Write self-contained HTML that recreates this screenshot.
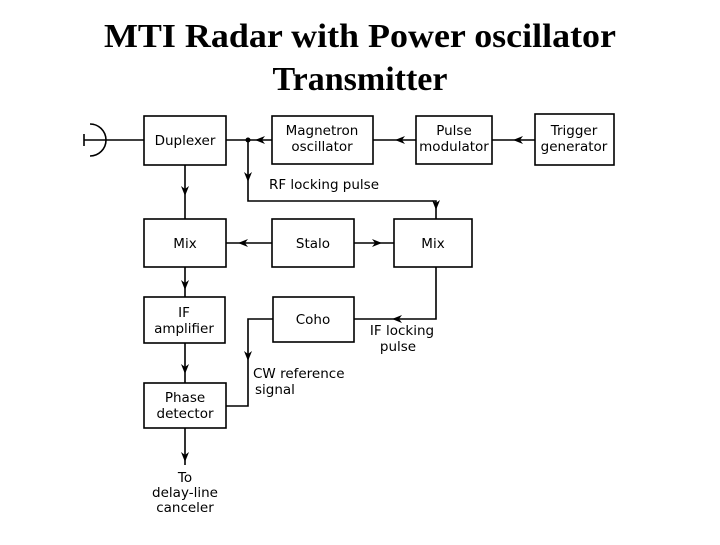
<!DOCTYPE html>
<html><head><style>
body{margin:0;background:#fff;width:720px;height:540px;overflow:hidden}
</style></head><body>
<svg width="720" height="540" xmlns="http://www.w3.org/2000/svg">
<text x="104" y="47" textLength="512" lengthAdjust="spacingAndGlyphs" font-family="Liberation Serif, serif" font-weight="bold" font-size="34" fill="#000">MTI Radar with Power oscillator</text>
<text x="360" y="90" text-anchor="middle" font-family="Liberation Serif, serif" font-weight="bold" font-size="34" fill="#000">Transmitter</text>
<g fill="none" stroke="#000" stroke-width="1.6">
<rect x="144" y="116" width="82" height="49"/>
<rect x="272" y="116" width="101" height="48"/>
<rect x="416" y="116" width="76" height="48"/>
<rect x="535" y="114" width="79" height="51"/>
<rect x="144" y="219" width="82" height="48"/>
<rect x="272" y="219" width="82" height="48"/>
<rect x="394" y="219" width="78" height="48"/>
<rect x="144" y="297" width="81" height="46"/>
<rect x="273" y="297" width="81" height="45"/>
<rect x="144" y="383" width="82" height="45"/>
<path d="M84 140H144M226 140H272M373 140H416M492 140H535"/>
<path d="M248 140V201H436V219"/>
<path d="M185 165V219M185 267V297M185 343V383M185 428V465"/>
<path d="M226 243H272M354 243H394"/>
<path d="M436 267V319H354"/>
<path d="M273 319H248V406H226"/>
<path d="M90 124A16 16 0 0 1 90 156M84 134V146"/>
</g>
<circle cx="248" cy="140" r="2.5"/>
<g fill="#000">
<path d="M181 186L185 196L189 186L185 189Z"/>
<path d="M181 280L185 290L189 280L185 283Z"/>
<path d="M181 364L185 374L189 364L185 367Z"/>
<path d="M181 452L185 462L189 452L185 455Z"/>
<path d="M244 172L248 182L252 172L248 175Z"/>
<path d="M432 200L436 210L440 200L436 203Z"/>
<path d="M244 351L248 361L252 351L248 354Z"/>
<path d="M265 136L255 140L265 144L262 140Z"/>
<path d="M405 136L395 140L405 144L402 140Z"/>
<path d="M523 136L513 140L523 144L520 140Z"/>
<path d="M248 239L238 243L248 247L245 243Z"/>
<path d="M372 239L382 243L372 247L375 243Z"/>
<path d="M402 315L392 319L402 323L399 319Z"/>
</g>
<g font-family="DejaVu Sans, sans-serif" font-size="13.5" fill="#000" text-anchor="middle">
<text x="185" y="145">Duplexer</text>
<text x="322" y="135">Magnetron</text><text x="322" y="151">oscillator</text>
<text x="454" y="135">Pulse</text><text x="454" y="151">modulator</text>
<text x="574" y="135">Trigger</text><text x="574" y="151">generator</text>
<text x="185" y="248">Mix</text>
<text x="313" y="248">Stalo</text>
<text x="433" y="248">Mix</text>
<text x="184" y="317">IF</text><text x="184" y="333">amplifier</text>
<text x="313" y="324">Coho</text>
<text x="185" y="402">Phase</text><text x="185" y="418">detector</text>
<text x="185" y="482">To</text><text x="185" y="497">delay-line</text><text x="185" y="512">canceler</text>
<text x="324" y="189">RF locking pulse</text>
<text x="402" y="335">IF locking</text><text x="398" y="351">pulse</text>
<text x="253" y="378" text-anchor="start">CW reference</text>
<text x="255" y="394" text-anchor="start">signal</text>
</g>
</svg>
</body></html>
